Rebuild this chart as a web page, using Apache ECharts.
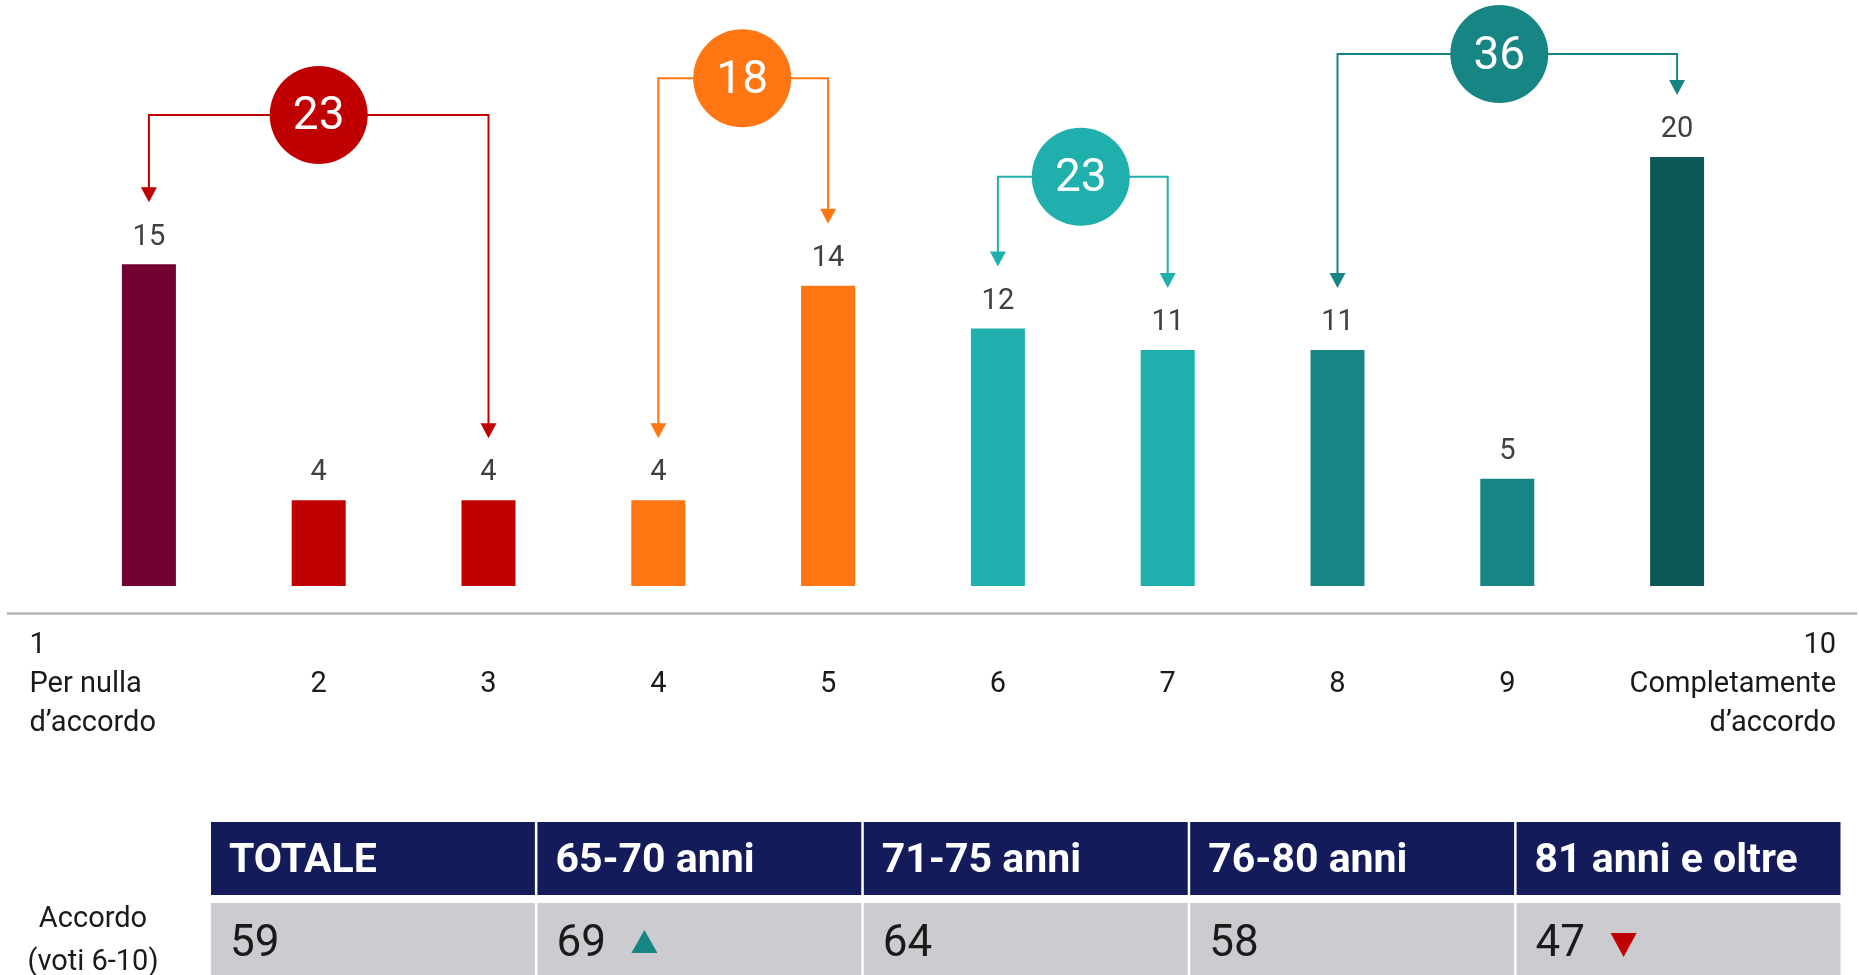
<!DOCTYPE html>
<html>
<head>
<meta charset="utf-8">
<script src="https://cdn.jsdelivr.net/npm/echarts@6/dist/echarts.min.js"></script>
<style>
    html, body { margin: 0; padding: 0; background: #fff; }
    #chart { width: 1859px; height: 975px; }
</style>
</head>
<body>
<div id="chart"></div>
<script>
    // scala di accordo 1-10
    var categories = ['1', '2', '3', '4', '5', '6', '7', '8', '9', '10'];
    var values = [15, 4, 4, 4, 14, 12, 11, 11, 5, 20];
    var leftLabel = ['Per nulla', 'd’accordo'];
    var rightLabel = ['Completamente', 'd’accordo'];

    // gruppi con totale (indici delle categorie)
    var groupStart = [0, 3, 5, 7];
    var groupEnd = [2, 4, 6, 9];
    var groupTotal = [23, 18, 23, 36];

    // tabella per età
    var tableHeaders = ['TOTALE', '65-70 anni', '71-75 anni', '76-80 anni', '81 anni e oltre'];
    var tableValues = [59, 69, 64, 58, 47];
    var tableTrend = ['', 'up', '', '', 'down'];
    var rowLabel = ['Accordo', '(voti 6-10)'];

    // stile
    var barColors = ['#720030', '#c00000', '#c00000', '#ff7612', '#ff7612',
                     '#1fb0ae', '#1fb0ae', '#178583', '#178583', '#0e5957'];
    var groupColors = ['#c00000', '#ff7612', '#1fb0ae', '#178583'];
    var bracketLevel = [21.96, 23.67, 19.08, 24.8];   // altezza delle parentesi, in unità dell'asse
    var circleShift = [0, -1, -2, -8];                // spostamento orizzontale del cerchio (px)
    var ARROW_GAP = 62;
    var FONT = 'Roboto';

    var myChart = echarts.init(document.getElementById('chart'));

    myChart.setOption({
        animation: false,
        grid: [
            { left: 64, right: 97, top: 49.75, bottom: 389 },
            { left: 210, right: 17, top: 822, bottom: 0 }
        ],
        xAxis: [{
            type: 'category',
            data: categories,
            gridIndex: 0,
            axisLine: { show: false },
            axisTick: { show: false },
            axisLabel: {
                interval: 0,
                margin: 40,
                formatter: function (v, i) {
                    if (i === 0) {
                        return '{l|' + v + '}\n{l|' + leftLabel[0] + '}\n{l|' + leftLabel[1] + '}';
                    }
                    if (i === categories.length - 1) {
                        return '{r|' + v + '}\n{r|' + rightLabel[0] + '}\n{r|' + rightLabel[1] + '}';
                    }
                    return '{c| }\n{c|' + v + '}\n{c| }';
                },
                rich: {
                    l: { width: 239, align: 'left', fontSize: 29, lineHeight: 39, color: '#1a1a1a', fontFamily: FONT },
                    r: { width: 318, align: 'right', fontSize: 29, lineHeight: 39, color: '#1a1a1a', fontFamily: FONT },
                    c: { align: 'center', fontSize: 29, lineHeight: 39, color: '#1a1a1a', fontFamily: FONT }
                }
            }
        }, {
            type: 'category',
            data: tableHeaders,
            gridIndex: 1,
            show: false
        }],
        yAxis: [{
            type: 'value',
            gridIndex: 0,
            min: 0,
            max: 25,
            show: false
        }, {
            type: 'value',
            gridIndex: 1,
            min: 0,
            max: 100,
            show: false
        }],
        graphic: [{
            type: 'line',
            shape: { x1: 7, y1: 613.5, x2: 1857, y2: 613.5 },
            style: { stroke: '#b3b3b3', lineWidth: 2.5 },
            silent: true
        }, {
            type: 'text',
            x: 93,
            y: 941.5,
            style: {
                text: rowLabel.join('\n'),
                align: 'center',
                verticalAlign: 'middle',
                fontSize: 29,
                lineHeight: 43,
                fontFamily: FONT,
                fill: '#1a1a1a'
            },
            silent: true
        }],
        series: [{
            type: 'bar',
            xAxisIndex: 0,
            yAxisIndex: 0,
            barWidth: 54,
            data: values.map(function (v, i) {
                return { value: v, itemStyle: { color: barColors[i] } };
            }),
            label: {
                show: true,
                position: 'top',
                distance: 12,
                fontSize: 29,
                lineHeight: 30,
                color: '#404040',
                fontFamily: FONT
            }
        }, {
            // parentesi con frecce e cerchio del totale
            type: 'custom',
            xAxisIndex: 0,
            yAxisIndex: 0,
            clip: false,
            silent: true,
            z: 5,
            encode: { x: [0, 1], y: 2 },
            data: groupTotal.map(function (t, i) { return [groupStart[i], groupEnd[i], t]; }),
            renderItem: function (params, api) {
                var i = params.dataIndex;
                var s = groupStart[i], e = groupEnd[i];
                var x1 = api.coord([s, 0])[0];
                var x2 = api.coord([e, 0])[0];
                var yb = api.coord([s, bracketLevel[i]])[1];
                var t1 = api.coord([s, values[s]])[1] - ARROW_GAP;
                var t2 = api.coord([e, values[e]])[1] - ARROW_GAP;
                var c = groupColors[i];
                var cx = (x1 + x2) / 2 + circleShift[i];
                return {
                    type: 'group',
                    children: [{
                        type: 'polyline',
                        shape: { points: [[x1, t1 - 14], [x1, yb], [x2, yb], [x2, t2 - 14]] },
                        style: { stroke: c, lineWidth: 2, fill: 'none' }
                    }, {
                        type: 'polygon',
                        shape: { points: [[x1 - 8, t1 - 15], [x1 + 8, t1 - 15], [x1, t1]] },
                        style: { fill: c }
                    }, {
                        type: 'polygon',
                        shape: { points: [[x2 - 8, t2 - 15], [x2 + 8, t2 - 15], [x2, t2]] },
                        style: { fill: c }
                    }, {
                        type: 'circle',
                        shape: { cx: cx, cy: yb, r: 49 },
                        style: { fill: c }
                    }, {
                        type: 'text',
                        style: {
                            text: String(groupTotal[i]),
                            x: cx,
                            y: yb + 3,
                            align: 'center',
                            verticalAlign: 'middle',
                            fontSize: 46,
                            fontFamily: FONT,
                            fill: '#fff'
                        }
                    }]
                };
            }
        }, {
            // tabella
            type: 'custom',
            xAxisIndex: 1,
            yAxisIndex: 1,
            clip: false,
            silent: true,
            encode: { x: 0, y: 1 },
            data: tableValues.map(function (v, i) { return [i, v]; }),
            renderItem: function (params, api) {
                var i = params.dataIndex;
                var cx = api.coord([i, 0])[0];
                var w = api.size([1, 0])[0];
                var left = cx - w / 2 + 1;
                var top = params.coordSys.y;
                var children = [{
                    type: 'rect',
                    shape: { x: left, y: top, width: w - 2.5, height: 73 },
                    style: { fill: '#131b5a' }
                }, {
                    type: 'rect',
                    shape: { x: left, y: top + 81, width: w - 2.5, height: 80 },
                    style: { fill: '#cbcbd0' }
                }, {
                    type: 'text',
                    style: {
                        text: tableHeaders[i],
                        x: left + 18,
                        y: top + 40,
                        align: 'left',
                        verticalAlign: 'middle',
                        fontSize: 41,
                        fontWeight: 'bold',
                        fontFamily: FONT,
                        fill: '#fff'
                    }
                }, {
                    type: 'text',
                    style: {
                        text: String(tableValues[i]),
                        x: left + 19,
                        y: top + 123,
                        align: 'left',
                        verticalAlign: 'middle',
                        fontSize: 44,
                        fontFamily: FONT,
                        fill: '#1a1a1a'
                    }
                }];
                var tx = left + 107;
                if (tableTrend[i] === 'up') {
                    children.push({
                        type: 'polygon',
                        shape: { points: [[tx - 13, top + 131], [tx + 13, top + 131], [tx, top + 108]] },
                        style: { fill: '#178583' }
                    });
                } else if (tableTrend[i] === 'down') {
                    children.push({
                        type: 'polygon',
                        shape: { points: [[tx - 13, top + 111], [tx + 13, top + 111], [tx, top + 135]] },
                        style: { fill: '#c00000' }
                    });
                }
                return { type: 'group', children: children };
            }
        }]
    });
</script>
</body>
</html>
